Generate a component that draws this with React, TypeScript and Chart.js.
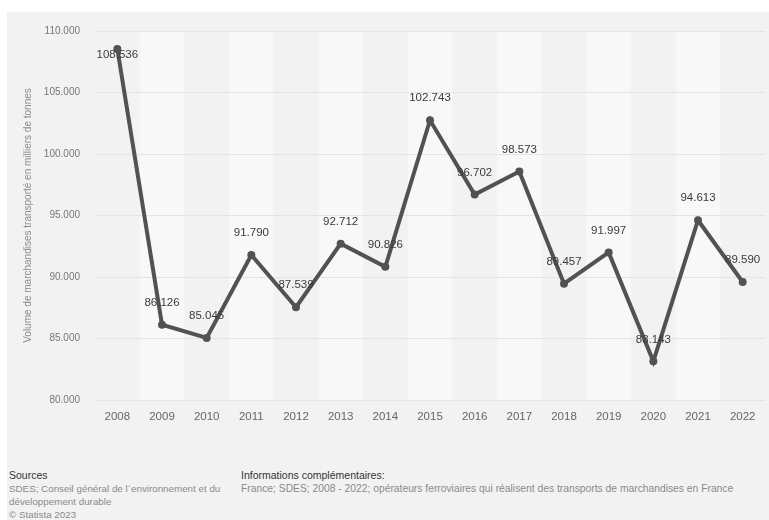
import React, { useEffect, useRef } from "react";
import { Chart, registerables } from "chart.js";

Chart.register(...registerables);

const years = ["2008","2009","2010","2011","2012","2013","2014","2015","2016","2017","2018","2019","2020","2021","2022"];
const volumes = [108536, 86126, 85045, 91790, 87539, 92712, 90826, 102743, 96702, 98573, 89457, 91997, 83143, 94613, 89590];
const yMin = 80000;
const yMax = 110000;
const yStep = 5000;
const yTitle = "Volume de marchandises transporté en milliers de tonnes";
const sourcesTitle = "Sources";
const sourcesLines = ["SDES; Conseil général de l´environnement et du", "développement durable", "© Statista 2023"];
const infoTitle = "Informations complémentaires:";
const infoLine = "France; SDES; 2008 - 2022; opérateurs ferroviaires qui réalisent des transports de marchandises en France";

const FONT = '"Liberation Sans", Arial, Helvetica, sans-serif';

function fmt(v: number): string {
  return String(Math.round(v)).replace(/\B(?=(\d{3})+(?!\d))/g, ".");
}

const bandsAndLabels = {
  id: "bandsAndLabels",
  beforeDraw(chart: any) {
    const { ctx, chartArea, scales } = chart;
    const xs = scales.x;
    ctx.save();
    for (let i = 0; i < years.length; i++) {
      if (i % 2 === 1) {
        const c = xs.getPixelForValue(i);
        const w = xs.width / years.length;
        ctx.fillStyle = "#f8f8f8";
        ctx.fillRect(c - w / 2, chartArea.top, w, chartArea.bottom - chartArea.top);
      }
    }
    ctx.restore();
  },
  afterDatasetsDraw(chart: any) {
    const { ctx, chartArea } = chart;
    const meta = chart.getDatasetMeta(0);
    ctx.save();
    ctx.font = `11.5px ${FONT}`;
    ctx.fillStyle = "#3a3a3a";
    ctx.textAlign = "center";
    ctx.textBaseline = "middle";
    meta.data.forEach((pt: any, i: number) => {
      let y = pt.y - 22;
      if (y < chartArea.top + 8) y = pt.y + 6;
      ctx.fillText(fmt(volumes[i]), pt.x, y);
    });
    ctx.restore();
  },
};

export default function App() {
  const ref = useRef<HTMLCanvasElement>(null);
  useEffect(() => {
    if (!ref.current) return;
    const chart = new Chart(ref.current, {
      type: "line",
      data: {
        labels: years,
        datasets: [
          {
            data: volumes,
            borderColor: "#525252",
            backgroundColor: "#525252",
            borderWidth: 4,
            pointRadius: 4,
            pointBackgroundColor: "#525252",
            pointBorderWidth: 0,
            tension: 0,
            fill: false,
          },
        ],
      },
      plugins: [bandsAndLabels],
      options: {
        responsive: false,
        animation: false,
        devicePixelRatio: 1,
        layout: { padding: { left: 0, right: 4, top: 31, bottom: 0 } },
        plugins: {
          legend: { display: false },
          tooltip: { enabled: false },
        },
        scales: {
          x: {
            offset: true,
            grid: { display: false, drawTicks: false },
            border: { display: false },
            ticks: {
              padding: 10,
              color: "#666",
              font: { family: FONT, size: 11.5 },
              maxRotation: 0,
              autoSkip: false,
            },
            afterFit: (s: any) => {
              s.height = 65;
            },
          },
          y: {
            min: yMin,
            max: yMax,
            border: { display: false },
            grid: { color: "#e4e4e4", lineWidth: 1, drawTicks: false },
            ticks: {
              stepSize: yStep,
              padding: 15,
              color: "#777",
              font: { family: FONT, size: 10 },
              callback: (v: any) => fmt(Number(v)),
            },
            title: {
              display: true,
              text: yTitle,
              color: "#8a8a8a",
              font: { family: FONT, size: 10 },
              padding: { top: 22, bottom: 0 },
            },
            afterFit: (s: any) => {
              s.width = 95;
            },
          },
        },
      },
    });
    return () => chart.destroy();
  }, []);

  return (
    <div style={{ position: "absolute", left: 0, top: 0, width: 769, height: 520, background: "#fff", overflow: "hidden", fontFamily: FONT }}>
      <div style={{ position: "absolute", left: 7, top: 12, width: 762, height: 508, background: "#f2f2f2" }} />
      <canvas ref={ref} width={769} height={465} style={{ position: "absolute", left: 0, top: 0, width: 769, height: 465 }} />
      <div style={{ position: "absolute", left: 9, top: 469, fontSize: 10.5, lineHeight: "13px", color: "#555", whiteSpace: "nowrap" }}>
        <div style={{ color: "#333" }}>{sourcesTitle}</div>
        {sourcesLines.map((l, i) => (
          <div key={i} style={{ fontSize: 9.8, color: "#8a8a8a" }}>{l}</div>
        ))}
      </div>
      <div style={{ position: "absolute", left: 241, top: 469, fontSize: 10.5, lineHeight: "13px", color: "#555", whiteSpace: "nowrap" }}>
        <div style={{ color: "#333" }}>{infoTitle}</div>
        <div style={{ fontSize: 10.3, color: "#8a8a8a" }}>{infoLine}</div>
      </div>
    </div>
  );
}
